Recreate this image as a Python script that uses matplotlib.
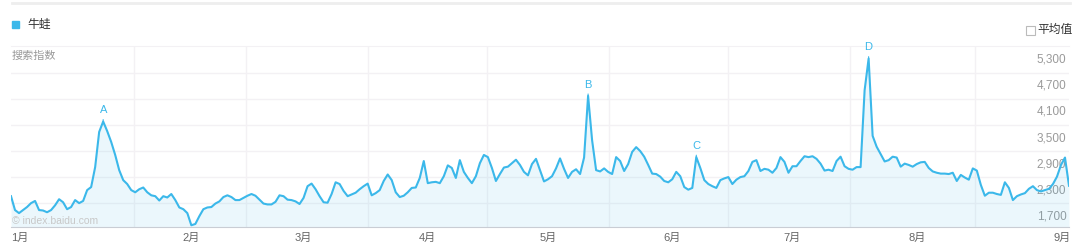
import numpy as np
import matplotlib.pyplot as plt
from matplotlib.patches import Rectangle
from matplotlib.lines import Line2D
from matplotlib.transforms import blended_transform_factory

plt.rcParams['font.family'] = ['Liberation Sans', 'Noto Sans CJK SC', 'DejaVu Sans']

# daily search index (mid Dec -> early Sep)
index_values = [
    2160, 1840, 1770, 1840, 1910, 2000, 2050, 1840, 1830, 1790,
    1840, 1950, 2090, 2020, 1860, 1910, 2070, 2000, 2050, 2300,
    2370, 2830, 3640, 3880, 3660, 3410, 3110, 2760, 2530, 2440,
    2300, 2250, 2320, 2360, 2250, 2180, 2160, 2060, 2160, 2130,
    2210, 2070, 1900, 1860, 1770, 1490, 1520, 1700, 1860, 1900,
    1910, 1990, 2040, 2140, 2180, 2140, 2070, 2070, 2120, 2170,
    2210, 2170, 2080, 1990, 1970, 1970, 2030, 2180, 2160, 2080,
    2070, 2040, 1980, 2120, 2390, 2450, 2320, 2160, 2020, 2010,
    2210, 2480, 2440, 2280, 2160, 2200, 2240, 2320, 2390, 2450,
    2180, 2230, 2300, 2510, 2660, 2530, 2250, 2140, 2170, 2250,
    2350, 2360, 2580, 2970, 2460, 2480, 2490, 2460, 2620, 2870,
    2810, 2580, 2990, 2720, 2580, 2460, 2620, 2920, 3110, 3060,
    2810, 2510, 2670, 2820, 2840, 2920, 3000, 2880, 2720, 2640,
    2900, 3020, 2760, 2500, 2550, 2620, 2800, 3030, 2790, 2580,
    2720, 2780, 2670, 3050, 4470, 3450, 2760, 2730, 2800, 2720,
    2670, 3060, 2970, 2740, 2900, 3180, 3290, 3200, 3070, 2880,
    2680, 2670, 2610, 2510, 2480, 2550, 2720, 2620, 2370, 2310,
    2350, 3060, 2810, 2530, 2440, 2390, 2350, 2530, 2570, 2600,
    2440, 2540, 2600, 2620, 2740, 2950, 2990, 2740, 2790, 2770,
    2700, 2810, 3060, 2950, 2700, 2850, 2850, 2970, 3080, 3060,
    3080, 3020, 2910, 2750, 2770, 2740, 2970, 3070, 2850, 2790,
    2770, 2830, 2830, 4600, 5330, 3550, 3300, 3130, 2960, 2990,
    3070, 3050, 2840, 2910, 2880, 2840, 2900, 2940, 2950, 2810,
    2730, 2700, 2680, 2680, 2670, 2700, 2510, 2650, 2590, 2540,
    2800, 2750, 2420, 2170, 2240, 2240, 2210, 2190, 2480, 2350,
    2070, 2160, 2200, 2230, 2330, 2390, 2300, 2270, 2300, 2330,
    2440, 2610, 2880, 3050, 2400,
]

month_labels = ['1月', '2月', '3月', '4月', '5月', '6月', '7月', '8月', '9月']
month_days = [2.2, 45, 73, 104, 134, 165, 195, 226, 262.2]

event_labels = ['A', 'B', 'C', 'D']
event_days = [23, 144, 171, 214]

ytick_values = [1700, 2300, 2900, 3500, 4100, 4700, 5300]

series_name = '牛蛙'
LINE = '#3bb8ea'
GRID = '#f3f1f4'
W, H = 1080, 248


def px(x, y):
    return x / W, 1 - y / H


def main() -> None:
    values = np.array(index_values, dtype=float)
    days = np.arange(len(values))

    fig = plt.figure(figsize=(W / 100, H / 100), dpi=100)
    ax = fig.add_axes([11 / W, 1 - 227 / H, 1058 / W, 181 / H])
    ax.set_xlim(0, len(values) - 1)
    ax.set_ylim(1450, 5620)

    # grid: horizontal lines sit between the value labels
    for g in np.arange(2000, 5100, 600):
        ax.axhline(g, color=GRID, lw=1, zorder=0)
    for g in [30.7, 58.6, 89.1, 118.8, 149.2, 178.9, 209.3, 240.5]:
        ax.axvline(g, color=GRID, lw=1, zorder=0)

    ax.fill_between(days, values, 1450, color=LINE, alpha=0.1, lw=0, zorder=2)
    ax.plot(days, values, color=LINE, lw=1.5, zorder=3, solid_joinstyle='round')

    for lab, d in zip(event_labels, event_days):
        ax.annotate(lab, xy=(d, values[d]), xytext=(0, 8),
                    textcoords='offset points', ha='center', va='center',
                    fontsize=8, color=LINE, zorder=4,
                    arrowprops=dict(arrowstyle='-', color=LINE, lw=0.8,
                                    shrinkA=1, shrinkB=0))

    trans = blended_transform_factory(ax.transAxes, ax.transData)
    for v in ytick_values:
        ax.text(0.9975, v, f'{v:,}', transform=trans, ha='right', va='center',
                fontsize=8.5, color='#9a9a9a', zorder=1)

    ax.set_xticks(month_days)
    ax.set_xticklabels(month_labels, fontsize=8, color='#666666')
    ax.tick_params(axis='x', length=0, pad=4)
    ax.set_yticks([])
    for side in ['left', 'right']:
        ax.spines[side].set_visible(False)
    ax.spines['top'].set_color(GRID)
    ax.spines['bottom'].set_color('#c9cdd4')

    # header
    fig.add_artist(Line2D([12 / W, 1070 / W], [1 - 3 / H, 1 - 3 / H],
                          color='#eeeeee', lw=2))
    fig.add_artist(Rectangle(px(12, 28), 7 / W, 7 / H, color=LINE))
    fig.text(*px(27, 25), series_name, fontsize=8.5, color='#333333', va='center')
    fig.add_artist(Rectangle(px(1026, 35), 9 / W, 9 / H, facecolor='white',
                             edgecolor='#bbbbbb', lw=0.8))
    fig.text(*px(1037, 30), '平均值', fontsize=8.5, color='#333333', va='center')
    fig.text(*px(12, 56), '搜索指数', fontsize=8, color='#999999', va='center')
    fig.text(*px(12, 221), '© index.baidu.com', fontsize=7.5, color='#c8c8c8',
             va='center')

    fig.savefig('out.png', dpi=100)


if __name__ == '__main__':
    main()
